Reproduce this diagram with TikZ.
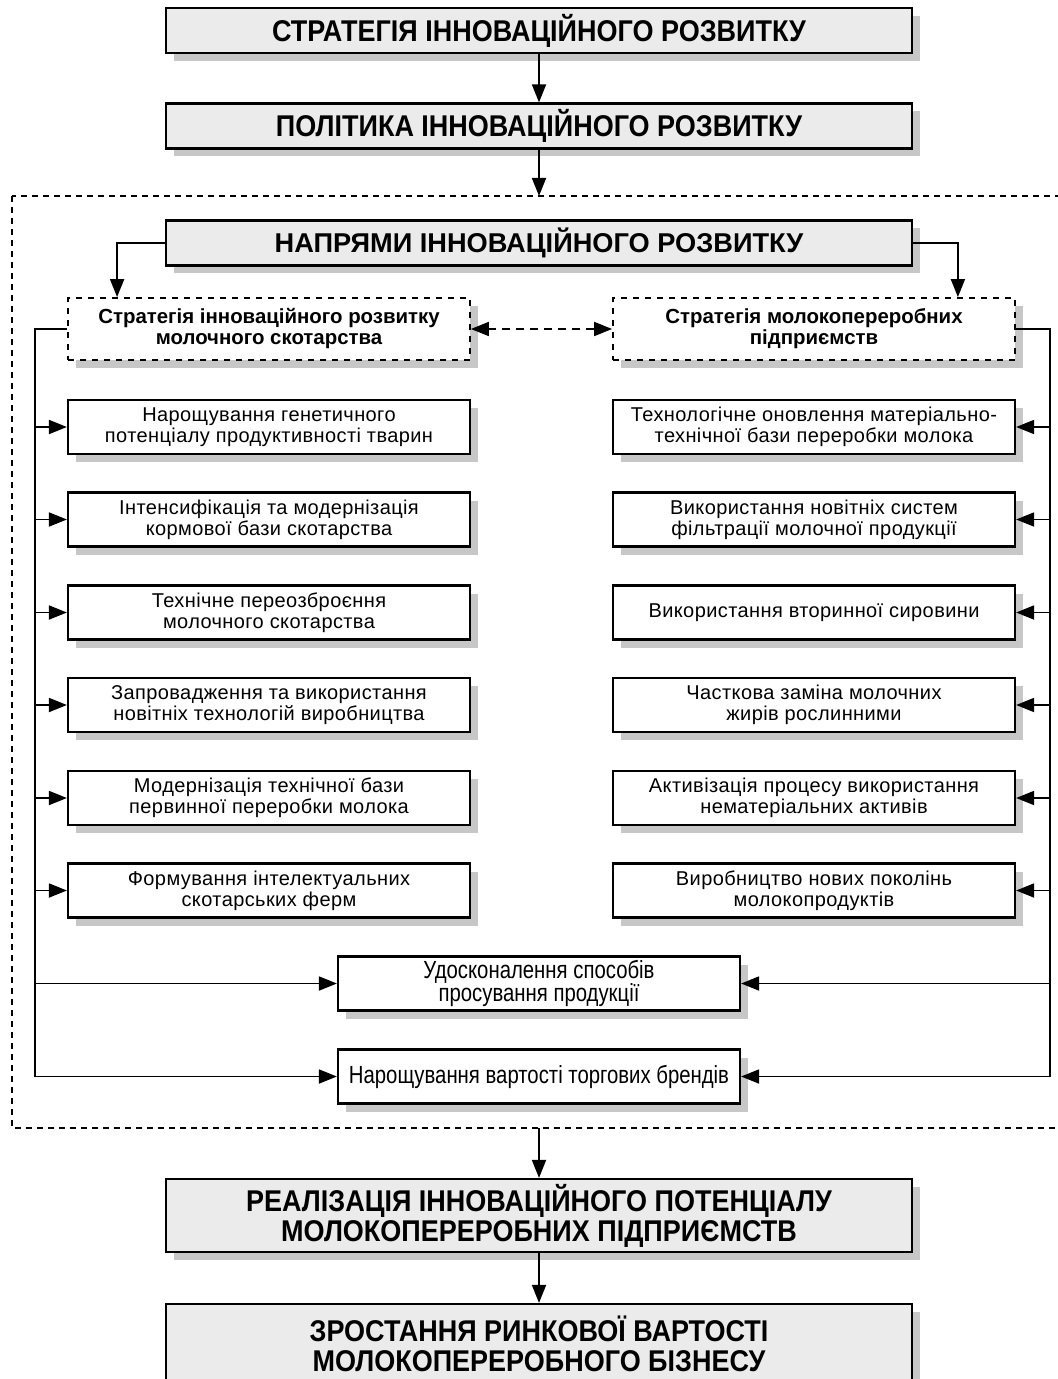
\documentclass[tikz,border=0pt]{standalone}
\usepackage{fontspec}
\setmainfont{Liberation Sans}
\newfontfamily\narrowfont{Liberation Sans}[FakeStretch=0.82]
\newfontfamily\headfont{Liberation Sans}[FakeStretch=0.9]
\newfontfamily\spacedfont{Liberation Sans}[LetterSpace=2]
\usetikzlibrary{positioning, arrows.meta, shadows}

\begin{document}
\begin{tikzpicture}[
        x=0.5pt, y=-0.5pt,
        >={Triangle[length=9pt,width=7pt]},
        every path/.style={line width=0.9pt},
        boxshadow/.style={drop shadow={shadow xshift=4pt, shadow yshift=-4pt, fill=black!22, opacity=1}},
        headbox/.style={
            draw=black, line width=1.1pt,
            fill=gray!16, boxshadow,
            minimum width=373pt, minimum height=22.5pt,
            align=center, inner sep=0pt,
            font=\headfont\bfseries\fontsize{15}{15}\selectfont
        },
        stratbox/.style={
            draw=black, dashed, line width=0.9pt,
            fill=white, boxshadow,
            minimum width=201pt, minimum height=31pt,
            align=center, inner sep=0pt,
            font=\bfseries\fontsize{10.2}{10.5}\selectfont
        },
        itembox/.style={
            draw=black, line width=1.1pt,
            fill=white, boxshadow,
            minimum width=201pt, minimum height=27pt,
            align=center, inner sep=0pt,
            font=\spacedfont\fontsize{10}{10.5}\selectfont
        },
        promobox/.style={
            itembox,
            font=\narrowfont\fontsize{12.4}{11.5}\selectfont
        }
    ]
        \useasboundingbox (0,0) rectangle (1058,1379);

        % Outer dashed frame
        \coordinate (frameNW) at (12,196);
        \coordinate (frameSE) at (1062,1128);
        \draw[dashed, line width=0.6pt, dash pattern=on 3pt off 2.5pt] (frameNW) rectangle (frameSE);

        % Main chain
        \node[headbox] (strat) at (539,30.5) {СТРАТЕГІЯ ІННОВАЦІЙНОГО РОЗВИТКУ};
        \node[headbox] (polit) at (539,126) {ПОЛІТИКА ІННОВАЦІЙНОГО РОЗВИТКУ};
        \node[headbox, font=\bfseries\fontsize{13.6}{14}\selectfont] (dir) at (539,243) {НАПРЯМИ ІННОВАЦІЙНОГО РОЗВИТКУ};

        % Two strategies
        \node[stratbox] (dl) at (269,329) {Стратегія інноваційного розвитку\\молочного скотарства};
        \node[stratbox] (dr) at (814,329) {Стратегія молокопереробних\\підприємств};

        % Dairy farming directions
        \node[itembox] (L1) at (269,427) {Нарощування генетичного\\потенціалу продуктивності тварин};
        \node[itembox] (L2) at (269,519.5) {Інтенсифікація та модернізація\\кормової бази скотарства};
        \node[itembox] (L3) at (269,612.5) {Технічне переозброєння\\молочного скотарства};
        \node[itembox] (L4) at (269,705) {Запровадження та використання\\новітніх технологій виробництва};
        \node[itembox] (L5) at (269,798) {Модернізація технічної бази\\первинної переробки молока};
        \node[itembox] (L6) at (269,890.5) {Формування інтелектуальних\\скотарських ферм};

        % Dairy processing directions
        \node[itembox] (R1) at (814,427) {Технологічне оновлення матеріально-\\технічної бази переробки молока};
        \node[itembox] (R2) at (814,519.5) {Використання новітніх систем\\фільтрації молочної продукції};
        \node[itembox] (R3) at (814,612.5) {Використання вторинної сировини};
        \node[itembox] (R4) at (814,705) {Часткова заміна молочних\\жирів рослинними};
        \node[itembox] (R5) at (814,798) {Активізація процесу використання\\нематеріальних активів};
        \node[itembox] (R6) at (814,890.5) {Виробництво нових поколінь\\молокопродуктів};

        % Common directions
        \node[promobox] (B1) at (539,983.5) {Удосконалення способів\\просування продукції};
        \node[promobox] (B2) at (539,1076.5) {Нарощування вартості торгових брендів};

        % Results
        \node[headbox, minimum height=36.5pt] (real) at (539,1215.5) {РЕАЛІЗАЦІЯ ІННОВАЦІЙНОГО ПОТЕНЦІАЛУ\\МОЛОКОПЕРЕРОБНИХ ПІДПРИЄМСТВ};
        \node[headbox, minimum height=40pt] (growth) at (539,1344) {ЗРОСТАННЯ РИНКОВОЇ ВАРТОСТІ\\МОЛОКОПЕРЕРОБНОГО БІЗНЕСУ};

        % Chain arrows
        \draw[->] (strat) -- (polit);
        \draw[->] (polit) -- (polit |- frameNW);
        \draw[->] (real |- frameSE) -- (real);
        \draw[->] (real) -- (growth);

        % Directions to strategies
        \draw[->] (dir.west) -| ([xshift=25pt]dl.north west);
        \draw[->] (dir.east) -| ([xshift=-29pt]dr.north east);
        \draw[<->, dashed, dash pattern=on 4pt off 3pt] (dl.east) -- (dr.west);

        % Left bus
        \coordinate (lbus) at (35,0);
        \draw[->] (dl.west) -| (lbus |- B2) -- (B2.west);
        \foreach \n in {L1,L2,L3,L4,L5,L6,B1}
            \draw[->] (lbus |- \n) -- (\n.west);

        % Right bus
        \coordinate (rbus) at (1050,0);
        \draw[->] (dr.east) -| (rbus |- B2) -- (B2.east);
        \foreach \n in {R1,R2,R3,R4,R5,R6,B1}
            \draw[->] (rbus |- \n) -- (\n.east);
    \end{tikzpicture}
\end{document}
